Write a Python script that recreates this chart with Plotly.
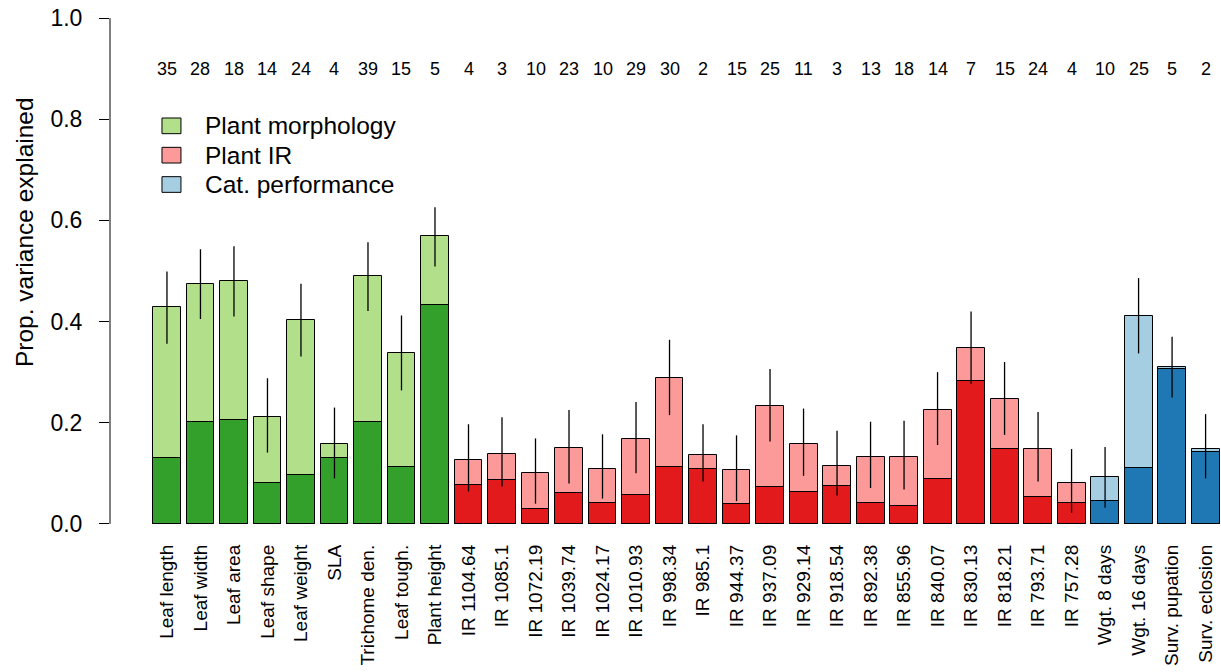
import plotly.graph_objects as go

labels = ["Leaf length", "Leaf width", "Leaf area", "Leaf shape", "Leaf weight", "SLA",
          "Trichome den.", "Leaf tough.", "Plant height",
          "IR 1104.64", "IR 1085.1", "IR 1072.19", "IR 1039.74", "IR 1024.17", "IR 1010.93",
          "IR 998.34", "IR 985.1", "IR 944.37", "IR 937.09", "IR 929.14", "IR 918.54",
          "IR 892.38", "IR 855.96", "IR 840.07", "IR 830.13", "IR 818.21", "IR 793.71",
          "IR 757.28", "Wgt. 8 days", "Wgt. 16 days", "Surv. pupation", "Surv. eclosion"]
counts = [35, 28, 18, 14, 24, 4, 39, 15, 5, 4, 3, 10, 23, 10, 29, 30, 2, 15, 25, 11, 3,
          13, 18, 14, 7, 15, 24, 4, 10, 25, 5, 2]
total = [0.428, 0.475, 0.480, 0.212, 0.403, 0.158, 0.490, 0.337, 0.570,
         0.127, 0.138, 0.101, 0.150, 0.109, 0.168, 0.288, 0.136, 0.106, 0.233, 0.158,
         0.114, 0.133, 0.133, 0.225, 0.348, 0.246, 0.149, 0.080,
         0.092, 0.411, 0.311, 0.148]
dark = [0.130, 0.202, 0.206, 0.080, 0.097, 0.130, 0.202, 0.113, 0.433,
        0.077, 0.086, 0.030, 0.061, 0.042, 0.058, 0.112, 0.109, 0.040, 0.073, 0.063,
        0.074, 0.041, 0.036, 0.088, 0.283, 0.148, 0.053, 0.042,
        0.045, 0.111, 0.306, 0.143]
err_hi = [0.499, 0.543, 0.549, 0.288, 0.475, 0.230, 0.557, 0.412, 0.626,
          0.197, 0.211, 0.169, 0.225, 0.177, 0.241, 0.364, 0.197, 0.175, 0.306, 0.228,
          0.184, 0.202, 0.204, 0.300, 0.420, 0.320, 0.221, 0.148,
          0.152, 0.486, 0.370, 0.217]
err_lo = [0.356, 0.405, 0.410, 0.141, 0.331, 0.090, 0.421, 0.264, 0.509,
          0.064, 0.074, 0.040, 0.080, 0.050, 0.100, 0.215, 0.084, 0.045, 0.163, 0.095,
          0.056, 0.071, 0.068, 0.156, 0.277, 0.176, 0.084, 0.022,
          0.032, 0.337, 0.250, 0.090]
group_names = ["Plant morphology", "Plant IR", "Cat. performance"]
group_sizes = [9, 19, 4]
light_cols = ["#B2DF8A", "#FB9A99", "#A6CEE3"]
dark_cols = ["#33A02C", "#E31A1C", "#1F78B4"]

grp = []
for g, n in enumerate(group_sizes):
    grp += [g] * n
xs = list(range(len(labels)))
lc = [light_cols[g] for g in grp]
dc = [dark_cols[g] for g in grp]

FONT = "Liberation Sans, Arial, Helvetica, sans-serif"

fig = go.Figure()
fig.add_trace(go.Bar(x=xs, y=total, width=1 / 1.2, marker=dict(color=lc, line=dict(color="black", width=1)),
                     showlegend=False, hoverinfo="skip"))
fig.add_trace(go.Bar(x=xs, y=dark, width=1 / 1.2, marker=dict(color=dc, line=dict(color="black", width=1)),
                     showlegend=False, hoverinfo="skip"))
fig.add_trace(go.Scatter(
    x=xs, y=total, mode="markers", marker=dict(size=1, opacity=0),
    error_y=dict(type="data", symmetric=False,
                 array=[h - t for h, t in zip(err_hi, total)],
                 arrayminus=[t - l for t, l in zip(total, err_lo)],
                 color="black", thickness=1.3, width=0),
    showlegend=False, hoverinfo="skip"))

annotations = []
for x, c in zip(xs, counts):
    annotations.append(dict(x=x, y=0.9, xref="x", yref="y", text=str(c), showarrow=False,
                            font=dict(size=18, color="black", family=FONT), xanchor="center", yanchor="middle"))

# y-axis title
annotations.append(dict(x=-0.0774, y=0.577, xref="paper", yref="y", text="Prop. variance explained",
                        textangle=-90, showarrow=False, font=dict(size=24.5, color="black", family=FONT),
                        xanchor="center", yanchor="middle"))

shapes = [dict(type="line", xref="paper", yref="y", x0=0, x1=0, y0=0, y1=1.0,
               line=dict(color="black", width=1))]

# legend
leg_y = [0.787, 0.729, 0.671]
for name, col, yy in zip(group_names, light_cols, leg_y):
    shapes.append(dict(type="rect", xref="x", yref="y", x0=-0.149, x1=0.418, y0=yy - 0.0155, y1=yy + 0.0155,
                       fillcolor=col, line=dict(color="black", width=1)))
    annotations.append(dict(x=1.075, y=yy, xref="x", yref="y", text=name, showarrow=False,
                            xanchor="left", yanchor="middle", font=dict(size=24.5, color="black", family=FONT)))

fig.update_layout(
    width=1221, height=672,
    margin=dict(l=110, r=0, t=8, b=138),
    paper_bgcolor="white", plot_bgcolor="white",
    barmode="overlay", bargap=0,
    font=dict(family=FONT, color="black"),
    annotations=annotations, shapes=shapes,
    xaxis=dict(range=[-1.70, 31.46], tickvals=xs, ticktext=labels, tickangle=-90,
               showgrid=False, zeroline=False, showline=False, ticks="",
               ticklabelstandoff=6,
               tickfont=dict(size=19, color="black", family=FONT)),
    yaxis=dict(range=[-0.02, 1.02], tickvals=[0, 0.2, 0.4, 0.6, 0.8, 1.0],
               ticktext=["0.0", "0.2", "0.4", "0.6", "0.8", "1.0"],
               ticks="outside", ticklen=10, tickwidth=1, tickcolor="black",
               ticklabelstandoff=12,
               showgrid=False, zeroline=False, showline=False,
               tickfont=dict(size=23, color="black", family=FONT)),
)

fig.write_html("out.html")
